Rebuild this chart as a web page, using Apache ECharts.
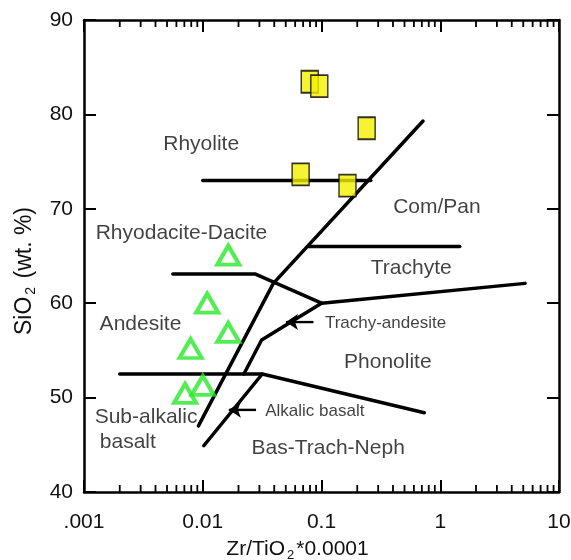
<!DOCTYPE html>
<html>
<head>
<meta charset="utf-8">
<script src="https://cdn.jsdelivr.net/npm/echarts@6/dist/echarts.min.js"></script>
<style>
  html, body { margin: 0; padding: 0; background: #fff; }
  #chart { width: 571px; height: 560px; }
</style>
</head>
<body>
<div id="chart"></div>
<script>
// ---------- data ----------
const xTickLabels = ['.001', '0.01', '0.1', '1', '10'];
const decades = [0.001, 0.01, 0.1, 1];
const minorMultipliers = [2, 3, 4, 5, 6, 7, 8, 9];

// field boundaries [Zr/TiO2*0.0001, SiO2]
const lineRhyoliteDacite = [[0.01, 73], [0.26, 73]];
const lineSubalkAlk = [[0.0092, 47], [0.0393, 62.1], [0.716, 79.3]];
const lineComPanTrachyte = [[0.078, 66], [1.46, 66]];
const lineDaciteAndesite = [[0.0056, 63.1], [0.0275, 63.1], [0.1, 60], [5.18, 62.1]];
const lineTrachyandesiteLower = [[0.1, 60], [0.0313, 56.1], [0.0222, 52.5]];
const lineBasaltUpper = [[0.002, 52.5], [0.0317, 52.5], [0.734, 48.4]];
const lineAlkBasalt = [[0.0102, 44.9], [0.0317, 52.5]];

// arrows [from, to]
const arrowTrachy = [[0.0853, 58.0], [0.0502, 58.0]];
const arrowAlkalic = [[0.0281, 48.7], [0.0166, 48.7]];

// samples
const squareX = [0.0796, 0.0958, 0.240, 0.0667, 0.1655];
const squareY = [83.46, 83.0, 78.53, 73.65, 72.45];
const triangleX = [0.0164, 0.0109, 0.0164, 0.0079, 0.0100, 0.0071];
const triangleY = [65.1, 60.0, 56.9, 55.2, 51.3, 50.45];

// field labels
const regionNames = ['Rhyolite', 'Com/Pan', 'Rhyodacite-Dacite', 'Trachyte', 'Andesite', 'Phonolite', 'Sub-alkalic', 'basalt', 'Bas-Trach-Neph'];
const regionX = [0.0097, 0.937, 0.00662, 0.570, 0.00299, 0.362, 0.00333, 0.00234, 0.1138];
const regionY = [76.84, 70.16, 67.4, 63.7, 57.77, 53.74, 47.9, 45.24, 44.63];
const smallNames = ['Trachy-andesite', 'Alkalic basalt'];
const smallX = [0.346, 0.0879];
const smallY = [57.85, 48.58];

// ---------- chart ----------
const FONT = '"Liberation Sans", Arial, Helvetica, sans-serif';
const TXT = '#111';
const minorTickValues = [];
decades.forEach(d => minorMultipliers.forEach(m => minorTickValues.push([m * d, 40])));

function boundary(data) {
  return {
    type: 'line', data: data, symbol: 'none', silent: true, z: 3,
    lineStyle: { color: '#000', width: 3.5, cap: 'round', join: 'round' }
  };
}
function arrow(pts) {
  return {
    type: 'line', data: pts, symbol: 'none', silent: true, z: 4,
    lineStyle: { color: '#000', width: 2.2 },
    markLine: {
      silent: true, animation: false,
      symbol: ['none', 'arrow'], symbolSize: 12,
      label: { show: false },
      lineStyle: { color: '#000', width: 2.2, type: 'solid' },
      data: [[{ coord: pts[0] }, { coord: pts[1] }]]
    }
  };
}
function labelSeries(names, xs, ys, size) {
  return {
    type: 'scatter', silent: true, z: 5,
    symbolSize: 1, itemStyle: { color: 'rgba(0,0,0,0)' },
    label: { show: true, position: 'inside', formatter: p => p.name, color: TXT, fontSize: size, fontFamily: FONT },
    data: names.map((n, i) => ({ name: n, value: [xs[i], ys[i]] }))
  };
}

function richSub(size, subSize, subPad) {
  return {
    a: { fontSize: size, color: TXT, fontFamily: FONT },
    s: { fontSize: subSize, color: TXT, fontFamily: FONT, padding: [subPad, 2, 0, 2] }
  };
}

const xAxisBase = {
  type: 'log', logBase: 10, min: 0.001, max: 10,
  axisLine: { show: true, onZero: false, lineStyle: { color: '#000', width: 2.5 } },
  axisTick: { show: true, inside: true, length: 12, lineStyle: { color: '#000', width: 2 } },
  splitLine: { show: false },
  minorTick: { show: false }
};
const yAxisBase = {
  type: 'value', min: 40, max: 90, interval: 10,
  axisLine: { show: true, onZero: false, lineStyle: { color: '#000', width: 2.5 } },
  axisTick: { show: true, inside: true, length: 12, lineStyle: { color: '#000', width: 2 } },
  splitLine: { show: false }
};

const option = {
  animation: false,
  backgroundColor: '#fff',
  grid: { left: 84, right: 12, top: 20, bottom: 68, containLabel: false, outerBoundsMode: 'none' },
  xAxis: [
    Object.assign({}, xAxisBase, {
      position: 'bottom',
      axisLabel: {
        color: TXT, fontSize: 21, fontFamily: FONT, margin: 20,
        formatter: v => xTickLabels[Math.round(Math.log10(v)) + 3]
      },
      name: '{a|Zr/TiO}{s|2}{a|*0.0001}',
      nameLocation: 'middle', nameGap: 45,
      nameTextStyle: { padding: [0, 48, 0, 0], rich: richSub(21, 13, 12) }
    }),
    Object.assign({}, xAxisBase, { position: 'top', axisLabel: { show: false } })
  ],
  yAxis: [
    Object.assign({}, yAxisBase, {
      position: 'left',
      axisLabel: { color: TXT, fontSize: 21, fontFamily: FONT, margin: 11 },
      name: '{a|SiO}{s|2}{a| (wt. %)}',
      nameLocation: 'middle', nameGap: 46, nameRotate: 90,
      nameTextStyle: { padding: [0, 30, 0, 0], rich: richSub(23, 14, 12) }
    }),
    Object.assign({}, yAxisBase, { position: 'right', axisLabel: { show: false } })
  ],
  series: [
    {
      type: 'custom', silent: true, z: 2,
      data: minorTickValues,
      renderItem: function (params, api) {
        const v = api.value(0);
        const b = api.coord([v, 40]);
        const t = api.coord([v, 90]);
        const st = { stroke: '#000', lineWidth: 1.8 };
        return {
          type: 'group',
          children: [
            { type: 'line', shape: { x1: b[0], y1: b[1], x2: b[0], y2: b[1] - 7 }, style: st },
            { type: 'line', shape: { x1: t[0], y1: t[1], x2: t[0], y2: t[1] + 7 }, style: st }
          ]
        };
      }
    },
    boundary(lineRhyoliteDacite),
    boundary(lineSubalkAlk),
    boundary(lineComPanTrachyte),
    boundary(lineDaciteAndesite),
    boundary(lineTrachyandesiteLower),
    boundary(lineBasaltUpper),
    boundary(lineAlkBasalt),
    arrow(arrowTrachy),
    arrow(arrowAlkalic),
    labelSeries(regionNames, regionX, regionY, 21),
    labelSeries(smallNames, smallX, smallY, 17),
    {
      type: 'scatter', silent: true, z: 6,
      symbol: 'rect', symbolSize: [17, 22],
      itemStyle: { color: '#f4f000', borderColor: '#000', borderWidth: 1.6 },
      data: squareX.map((x, i) => [x, squareY[i]])
    },
    {
      type: 'scatter', silent: true, z: 6,
      symbol: 'triangle', symbolSize: [22, 19],
      itemStyle: { color: 'rgba(0,0,0,0)', borderColor: '#27e827', borderWidth: 4 },
      data: triangleX.map((x, i) => [x, triangleY[i]])
    }
  ]
};

const chart = echarts.init(document.getElementById('chart'), null, { renderer: 'canvas' });
chart.setOption(option);
</script>
</body>
</html>
